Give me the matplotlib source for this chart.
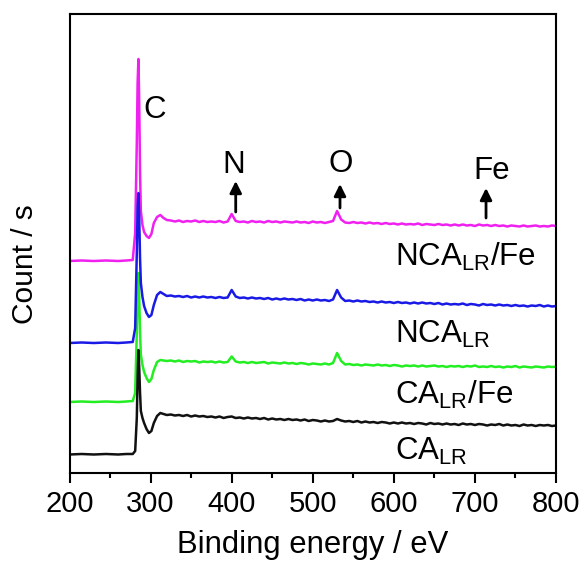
import matplotlib
matplotlib.use("Agg")
import matplotlib.pyplot as plt

plt.rcParams["font.family"] = ["Liberation Sans", "DejaVu Sans"]
plt.rcParams["mathtext.fontset"] = "custom"
plt.rcParams["mathtext.rm"] = "Liberation Sans"
plt.rcParams["mathtext.it"] = "Liberation Sans:italic"
plt.rcParams["mathtext.bf"] = "Liberation Sans:bold"

# Binding energy grid (eV): coarse below the C 1s edge, fine over the peak,
# then a regular 5 eV step for the rest of the survey.
energy = [200, 215, 230, 245, 260, 270,
          278, 281, 283, 284, 285, 286, 287, 288,
          290, 292, 295, 298, 301, 304, 308, 312, 316, 320] + list(range(325, 801, 5))

# Stacked survey spectra (offset counts, arbitrary units)
ca_lr = [18.5, 19, 18.5, 19, 18.5, 19,
         19, 22, 55, 95, 123, 105, 80, 62,
         55, 50, 44, 40, 42, 50, 57, 60, 59, 58,
         58.5, 57.5, 58, 57, 58, 56.5, 57.5, 56.5, 57, 56,
         56.5, 55.5, 56.5, 55, 56, 56.5, 55, 55.5, 54.5, 55.5,
         54.5, 55, 54, 55, 53.5, 54.5, 53.5, 54, 53, 54,
         53, 53.5, 52.5, 53.5, 52, 53, 52.5, 51.5, 52.5, 51.5,
         52, 54, 52.5, 51.5, 52, 51, 52, 50.5, 51.5, 50.5,
         51, 50, 51, 50.5, 49.5, 50.5, 49.5, 50.5, 49.5, 50,
         49, 50, 49.5, 48.5, 50, 49, 49.5, 48.5, 49.5, 48.5,
         49, 48, 49.5, 48.5, 49, 48, 49, 48.5, 47.5, 48.5,
         48, 49, 47.5, 48.5, 47.5, 48, 47, 48.5, 47.5, 48,
         47, 48, 47.5, 48, 47, 47.5]

ca_lr_fe = [71, 71.5, 71, 71.5, 71, 71.5,
            72, 80, 140, 185, 200, 175, 140, 118,
            108, 101, 95, 91, 94, 103, 111, 113, 112.5, 112,
            112.5, 111.5, 112.5, 111, 112, 111.5, 112, 110.5, 111.5, 111,
            111.5, 110.5, 111.5, 110.5, 111, 116.5, 111.5, 110.5, 111, 110,
            111, 110, 110.5, 111, 109.5, 110.5, 110, 109.5, 110.5, 109.5,
            110, 109, 110, 109.5, 108.5, 109.5, 109, 108.5, 109.5, 108.5,
            110, 120, 112, 108.5, 109, 108, 108.5, 107.5, 108.5, 108,
            107.5, 108.5, 107.5, 108, 107, 108, 107.5, 106.5, 107.5, 107,
            107.5, 106.5, 107.5, 106.5, 107, 107.5, 106.5, 107, 106, 107,
            106.5, 107, 106, 107, 106.5, 107.5, 106, 106.5, 106, 107,
            106, 106.5, 105.5, 106.5, 106, 107, 105.5, 106.5, 106, 105.5,
            106.5, 106, 105.5, 106.5, 106, 106.3]

nca_lr = [130, 130.5, 130, 130.5, 130, 130.5,
          131, 145, 220, 265, 280, 255, 215, 190,
          176, 167, 160, 156, 158, 168, 178, 181, 179, 177,
          177.5, 176.5, 177, 176, 177, 175.5, 176.5, 175.5, 176.5, 175.5,
          176, 175, 176, 175, 175.5, 183, 176.5, 175, 175.5, 174.5,
          175.5, 174.5, 175, 174, 175, 173.5, 174.5, 173.5, 174.5, 173.5,
          174, 173, 174, 172.5, 173.5, 172.5, 173.5, 172.5, 173, 172,
          173.5, 183, 175.5, 172, 172.5, 171.5, 172.5, 171.5, 172, 171,
          171.5, 170.5, 171.5, 170.5, 171, 170, 171, 170, 170.5, 169.5,
          170.5, 169.5, 170.5, 169.5, 170, 169, 170, 168.5, 169.5, 168.5,
          169, 168.5, 169.5, 168, 169, 168.5, 167.5, 169, 168, 168.5,
          167.5, 168.5, 167.5, 168, 167, 168, 167, 167.5, 166.5, 167.5,
          167, 168, 166.5, 167.5, 166.5, 167]

nca_lr_fe = [212, 212.5, 212, 212.5, 212, 212.5,
             213, 240, 330, 390, 414, 370, 300, 262,
             248, 241, 237, 235, 239, 250, 256, 258, 255, 253,
             252.5, 251.5, 252.5, 251, 252, 251.5, 252.5, 251, 252, 251,
             251.5, 251, 252, 250.5, 251.5, 259, 252, 251, 251.5, 250.5,
             252, 251, 251.5, 250.5, 252, 251, 251.5, 250.5, 251.5, 251,
             250.5, 251.5, 250.5, 251, 250, 251.5, 250.5, 251, 250, 251,
             252, 262, 253.5, 250.5, 250, 251, 250, 250.5, 249.5, 250.5,
             249.5, 250, 249, 250, 249, 249.5, 248.5, 249.5, 248.5, 249,
             248.5, 249.5, 248, 249, 248.5, 248, 249, 248, 248.5, 247.5,
             248.5, 247.5, 248.5, 247.5, 248, 247, 248.5, 247.5, 248, 247,
             248, 247, 247.5, 246.5, 247.5, 247, 246.5, 247.5, 246.5, 247,
             247.5, 246.5, 247, 246.5, 247.5, 247]

series_labels = [r"NCA$_{\mathrm{LR}}$/Fe", r"NCA$_{\mathrm{LR}}$",
                 r"CA$_{\mathrm{LR}}$/Fe", r"CA$_{\mathrm{LR}}$"]
label_baselines = [207.5, 130, 69, 13]

# Element markers: name, label position, arrow x
elements = ["C", "N", "O", "Fe"]
element_x = [305.5, 403, 535, 720.5]
element_y = [355, 300, 301, 294]
arrow_x = [None, 405, 533.6, 713.7]
arrow_tail = [None, 261, 265, 255]
arrow_tip = [None, 292, 289, 285]

fig = plt.figure(figsize=(5.85, 5.64), dpi=100)
ax = fig.add_axes([69.5 / 585, 1 - 473 / 564, 486.5 / 585, 459 / 564])

ax.plot(energy, nca_lr_fe, color="#f020f0", lw=1.8)
ax.plot(energy, ca_lr_fe, color="#22ee22", lw=1.8)
ax.plot(energy, nca_lr, color="#1a1ae6", lw=1.8)
ax.plot(energy, ca_lr, color="#111111", lw=1.8)

ax.set_xlim(200, 800)
ax.set_ylim(0, 459)

for text, yb in zip(series_labels, label_baselines):
    ax.text(601.5, yb, text, fontsize=22.5, ha="left", va="baseline")

for name, ex, ey, ax_x, tail, tip in zip(elements, element_x, element_y,
                                          arrow_x, arrow_tail, arrow_tip):
    ax.text(ex, ey, name, fontsize=22.5, ha="center", va="baseline")
    if ax_x is not None:
        ax.annotate("", xy=(ax_x, tip), xytext=(ax_x, tail),
                    arrowprops=dict(arrowstyle="-|>,head_length=0.7,head_width=0.35",
                                    color="black", lw=2.0, shrinkA=0, shrinkB=0))

ax.set_xticks([200, 300, 400, 500, 600, 700, 800])
ax.set_xticks([250, 350, 450, 550, 650, 750], minor=True)
ax.set_yticks([])
ax.tick_params(axis="x", which="major", direction="out", length=7, width=1.5,
               labelsize=21, pad=5, top=False)
ax.tick_params(axis="x", which="minor", direction="out", length=3.6, width=1.5, top=False)
for s in ax.spines.values():
    s.set_linewidth(1.5)

ax.set_xlabel("Binding energy / eV", fontsize=22.3, labelpad=9)
fig.text(25 / 585, 1 - 264 / 564, "Count / s", fontsize=21.5, rotation=90,
         ha="center", va="center")

fig.savefig("out.png", dpi=100)
